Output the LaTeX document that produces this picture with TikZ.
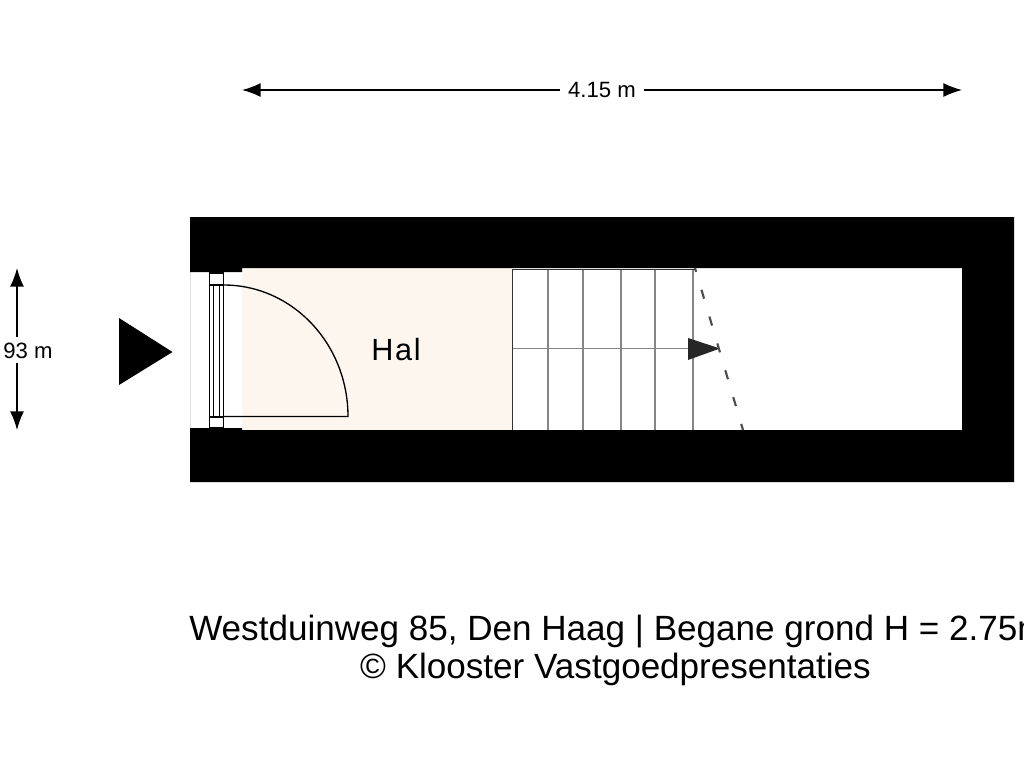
\documentclass[tikz,border=0pt]{standalone}
\usepackage{fontspec}
\setmainfont{Liberation Sans}
\usepackage{xcolor}
\usepackage{tikz}
\usetikzlibrary{calc}
\usetikzlibrary{arrows.meta}
\usetikzlibrary{positioning}
\definecolor{halfill}{HTML}{FDF6EE}
\definecolor{stairgrey}{HTML}{858585}
\tikzset{>={Latex[length=14pt,width=10.5pt]}}
\tikzstyle{dimlabel} = [draw = none, fill = white, inner sep = 0, minimum height = 20pt, font = \fontsize{16.6}{18}\selectfont]
\tikzstyle{doorline} = [draw = black, line width = 1pt]
\tikzstyle{stairline} = [draw = stairgrey, line width = 1.3pt]

\begin{document}
\begin{tikzpicture}[x = .75pt, y = -.75pt]
\useasboundingbox [fill = white] (0, 0) rectangle (1024, 768);
% room floor
\fill [halfill] (242, 268) rectangle (512, 430);
% walls
\fill [black, even odd rule] (190, 217) rectangle (1014, 482)
  (190, 272) -- (242, 272) -- (242, 268) -- (962, 268) -- (962, 430) -- (242, 430) -- (242, 428) -- (190, 428) -- cycle;
% door
\draw [doorline] (209.3, 273) rectangle (223.7, 285);
\draw [doorline] (209.3, 417) rectangle (223.7, 428);
\foreach \x in {209.3, 213.3, 219.3, 223.7}
  \draw [doorline] (\x, 285) -- (\x, 417);
\draw [doorline] (223.7, 416.5) -- (348, 416.5) arc [start angle = 0, end angle = -90, x radius = 124.3, y radius = 131.5];
% stairs
\foreach \x in {548.3, 582.7, 620.7, 654.7, 692.7}
  \draw [stairline] (\x, 270) -- (\x, 430);
\draw [stairline] (512, 348.5) -- (690, 348.5);
\draw [draw = black!80, line width = 1.1pt] (696, 269.5) -- (512.3, 269.5) -- (512.3, 430);
\fill [black!85] (688, 338) -- (720, 348.5) -- (688, 360) -- cycle;
\draw [draw = black!70, line width = 1.6pt, dash pattern = on 7pt off 14pt, dash phase = 4pt] (695, 268) -- (743, 430);
% labels
\node [font = \fontsize{23}{26}\selectfont] (hal) at (396, 349.5) {H\kern1.2pt a\kern1.2pt l};
\coordinate (wl) at (242, 90);
\coordinate (wr) at (962, 90);
\node [dimlabel, minimum width = 63pt] (width) at (602, 90) {4.15 m};
\draw [<-, line width = 1.1pt] (wl) -- (width);
\draw [->, line width = 1.1pt] (width) -- (wr);
\coordinate (ht) at (17, 268);
\coordinate (hb) at (17, 430);
\node [dimlabel, anchor = west, minimum height = 26pt] (height) at (3, 350.5) {93 m};
\draw [<-, line width = 1.1pt] (ht) -- (17, 337);
\draw [->, line width = 1.1pt] (17, 363) -- (hb);
% entrance
\fill [black] (119, 318) -- (172.5, 352) -- (119, 385) -- cycle;
% caption
\node [anchor = base west, inner sep = 0, font = \fontsize{26.3}{28}\selectfont] (title) at (189, 640) {Westduinweg 85, Den Haag | Begane grond H = 2.75m};
\node [anchor = base, inner sep = 0, font = \fontsize{26.3}{28}\selectfont] (credit) at (615.5, 678) {© Klooster Vastgoedpresentaties};
\end{tikzpicture}
\end{document}
